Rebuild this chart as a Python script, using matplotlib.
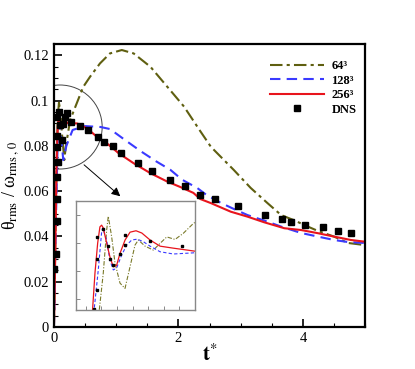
import numpy as np
import matplotlib.pyplot as plt
from matplotlib.patches import Ellipse

plt.rcParams['font.family'] = ['Liberation Serif', 'DejaVu Serif']
plt.rcParams['mathtext.fontset'] = 'stix'

# ---- main plot data ----
t_64 = [0.0, 0.03, 0.06, 0.08, 0.10, 0.13, 0.166, 0.19, 0.26, 0.47, 0.58, 0.74, 0.90, 1.09,
        1.28, 1.55, 1.82, 2.09, 2.35, 2.52, 2.62, 2.89, 3.16, 3.43, 3.65, 3.85, 4.08,
        4.24, 4.50, 4.72, 4.98, 5.0]
v_64 = [0.0, 0.05, 0.092, 0.099, 0.096, 0.085, 0.0737, 0.0796, 0.0914, 0.106, 0.1105,
        0.1164, 0.1208, 0.1223, 0.1208, 0.1149, 0.1061, 0.0973, 0.0865, 0.0796, 0.0768,
        0.0693, 0.0614, 0.0547, 0.0494, 0.0472, 0.0443, 0.0424, 0.0399, 0.0371, 0.0362,
        0.0362]

t_128 = [0.0, 0.03, 0.06, 0.09, 0.12, 0.15, 0.20, 0.30, 0.50, 0.75, 0.90, 1.17, 1.40, 1.65,
         1.87, 2.06, 2.30, 2.45, 2.68, 2.89, 3.11, 3.43, 3.65, 3.97, 4.24, 4.50, 4.72,
         4.98, 5.0]
v_128 = [0.0, 0.045, 0.082, 0.090, 0.082, 0.0737, 0.080, 0.087, 0.0887, 0.0883, 0.0874,
         0.082, 0.0775, 0.073, 0.0694, 0.065, 0.0614, 0.0583, 0.0548, 0.0521, 0.0494,
         0.0465, 0.0443, 0.0415, 0.0399, 0.0384, 0.0375, 0.0371, 0.0370]

t_256 = [0.0, 0.02, 0.04, 0.06, 0.08, 0.10, 0.12, 0.15, 0.23, 0.37, 0.53, 0.69, 0.85, 1.04,
         1.28, 1.55, 1.82, 2.03, 2.24, 2.35, 2.52, 2.84, 3.11, 3.38, 3.70, 3.97, 4.24,
         4.50, 4.77, 4.98, 5.0]
v_256 = [0.0, 0.03, 0.07, 0.088, 0.094, 0.090, 0.088, 0.0914, 0.0899, 0.0899, 0.0877,
         0.0840, 0.0811, 0.0767, 0.0723, 0.0679, 0.0642, 0.0618, 0.0592, 0.0565, 0.0547,
         0.0509, 0.0487, 0.0462, 0.0436, 0.0428, 0.0414, 0.0399, 0.0384, 0.0377, 0.0376]

t_dns = [0.0, 0.03, 0.05, 0.05, 0.05, 0.06, 0.05, 0.05, 0.13, 0.05, 0.08, 0.10, 0.15, 0.18,
         0.21, 0.27, 0.42, 0.55, 0.71, 0.81, 0.95, 1.08, 1.35, 1.58, 1.87, 2.11, 2.34,
         2.58, 2.95, 3.39, 3.66, 3.81, 4.03, 4.32, 4.56, 4.77]
v_dns = [0.0256, 0.0322, 0.0468, 0.0565, 0.0662, 0.0728, 0.0795, 0.0843, 0.0826, 0.0927,
         0.0949, 0.0892, 0.0896, 0.0927, 0.0945, 0.0905, 0.0887, 0.0870, 0.0839, 0.0817,
         0.0799, 0.0768, 0.0724, 0.0689, 0.0649, 0.0623, 0.0583, 0.0565, 0.0534, 0.0494,
         0.0477, 0.0464, 0.0450, 0.0442, 0.0424, 0.0415]

# ---- inset data (zoom of early times) ----
ti_256 = [0.040, 0.0446, 0.0593, 0.0766, 0.091, 0.102, 0.1125, 0.134, 0.155, 0.1766, 0.198,
          0.220, 0.252, 0.284, 0.322, 0.359, 0.412, 0.476, 0.559, 0.6875, 0.70]
vi_256 = [0.052, 0.0568, 0.0693, 0.0800, 0.0858, 0.0864, 0.0854, 0.0800, 0.0751, 0.0715,
          0.0721, 0.0764, 0.0811, 0.0839, 0.0844, 0.0836, 0.0811, 0.0789, 0.0782, 0.0772,
          0.0771]
ti_128 = [0.050, 0.055, 0.0805, 0.102, 0.1087, 0.134, 0.155, 0.1766, 0.198, 0.230, 0.2625,
          0.2945, 0.330, 0.369, 0.412, 0.476, 0.561, 0.6875, 0.70]
vi_128 = [0.053, 0.0568, 0.0704, 0.0840, 0.0854, 0.0811, 0.0739, 0.0704, 0.0711, 0.0757,
          0.0793, 0.0811, 0.0814, 0.0805, 0.0789, 0.0769, 0.0761, 0.0765, 0.0766]
ti_64 = [0.083, 0.087, 0.1125, 0.134, 0.1445, 0.166, 0.1875, 0.2195, 0.2516, 0.2836, 0.3157,
         0.337, 0.380, 0.433, 0.476, 0.519, 0.572, 0.625, 0.689, 0.70]
vi_64 = [0.053, 0.0561, 0.0693, 0.0846, 0.0896, 0.0823, 0.0729, 0.0657, 0.0638, 0.0715,
         0.0793, 0.0811, 0.0789, 0.0775, 0.0799, 0.0822, 0.0813, 0.0835, 0.0870, 0.0874]
ti_dns = [0.053, 0.070, 0.070, 0.070, 0.1087, 0.141, 0.155, 0.1766, 0.2195, 0.2516, 0.2516,
          0.412, 0.615]
vi_dns = [0.0564, 0.0632, 0.0743, 0.0822, 0.0850, 0.0790, 0.0743, 0.0721, 0.0761, 0.0793,
          0.0829, 0.0807, 0.0789]

labels = ['64³', '128³', '256³', 'DNS']

OLIVE = '#5f5f10'
BLUE = '#3a3aff'
RED = '#e8141c'

fig = plt.figure(figsize=(4.15, 3.69), dpi=100)
ax = fig.add_axes([0.130, 0.114, 0.750, 0.767])

ax.plot(t_64, v_64, color=OLIVE, lw=1.5, dashes=(6, 2, 1.5, 2), label=labels[0])
ax.plot(t_128, v_128, color=BLUE, lw=1.5, dashes=(5, 3), label=labels[1])
ax.plot(t_256, v_256, color=RED, lw=1.5, label=labels[2])
ax.plot(t_dns, v_dns, 's', color='black', ms=5, label=labels[3])

ax.set_xlim(0, 5)
ax.set_ylim(0, 0.125)
ax.set_xticks([0, 2, 4])
ax.set_xticks(np.arange(0, 5.01, 0.5), minor=True)
ax.set_yticks(np.arange(0, 0.121, 0.02))
ax.set_yticks(np.arange(0, 0.125, 0.005), minor=True)
ax.set_yticklabels(['0', '0.02', '0.04', '0.06', '0.08', '0.1', '0.12'])
ax.tick_params(which='both', direction='in', top=False, right=False, labelsize=10.5)
ax.tick_params(which='major', length=6, width=1.2)
ax.tick_params(which='minor', length=3, width=0.8)
for s in ax.spines.values():
    s.set_linewidth(1.6)

ax.set_xlabel(r'$\mathbf{t}^{*}$', fontsize=15, labelpad=0)
ax.set_ylabel('θ$_{\\rm rms}$ / ω$_{\\rm rms\\,,\\,0}$', fontsize=13, labelpad=2)

ax.legend(loc='upper left', bbox_to_anchor=(0.675, 0.965), frameon=False,
          prop={'weight': 'bold', 'size': 9},
          handlelength=4.3, handletextpad=0.6, labelspacing=0.2, borderpad=0)

# zoom circle and arrow
ax.add_patch(Ellipse((0.097, 0.0883), 1.355, 0.0371, fill=False, edgecolor='#444444', lw=0.7))
ax.annotate('', xy=(1.10, 0.0569), xytext=(0.45, 0.0724),
            arrowprops=dict(arrowstyle='-|>', color='black', lw=0.7, mutation_scale=13))

# inset
ins = fig.add_axes([0.183, 0.160, 0.287, 0.295])
ins.plot(ti_64, vi_64, color='#7a7a2a', lw=0.8, dashes=(4, 1.5, 1, 1.5))
ins.plot(ti_128, vi_128, color=BLUE, lw=0.8, dashes=(3, 2))
ins.plot(ti_256, vi_256, color=RED, lw=0.9)
ins.plot(ti_dns, vi_dns, 's', color='black', ms=1.8)
ins.set_xlim(-0.0625, 0.7)
ins.set_ylim(0.0561, 0.095)
ins.set_xticks(np.arange(0, 0.61, 0.1))
ins.set_yticks([0.06, 0.07, 0.08, 0.09])
ins.tick_params(direction='in', length=3, width=0.6, color='#777777',
                labelleft=False, labelbottom=False)
for s in ins.spines.values():
    s.set_edgecolor('#888888')
    s.set_linewidth(1.0)

fig.savefig('out.png', dpi=100)
